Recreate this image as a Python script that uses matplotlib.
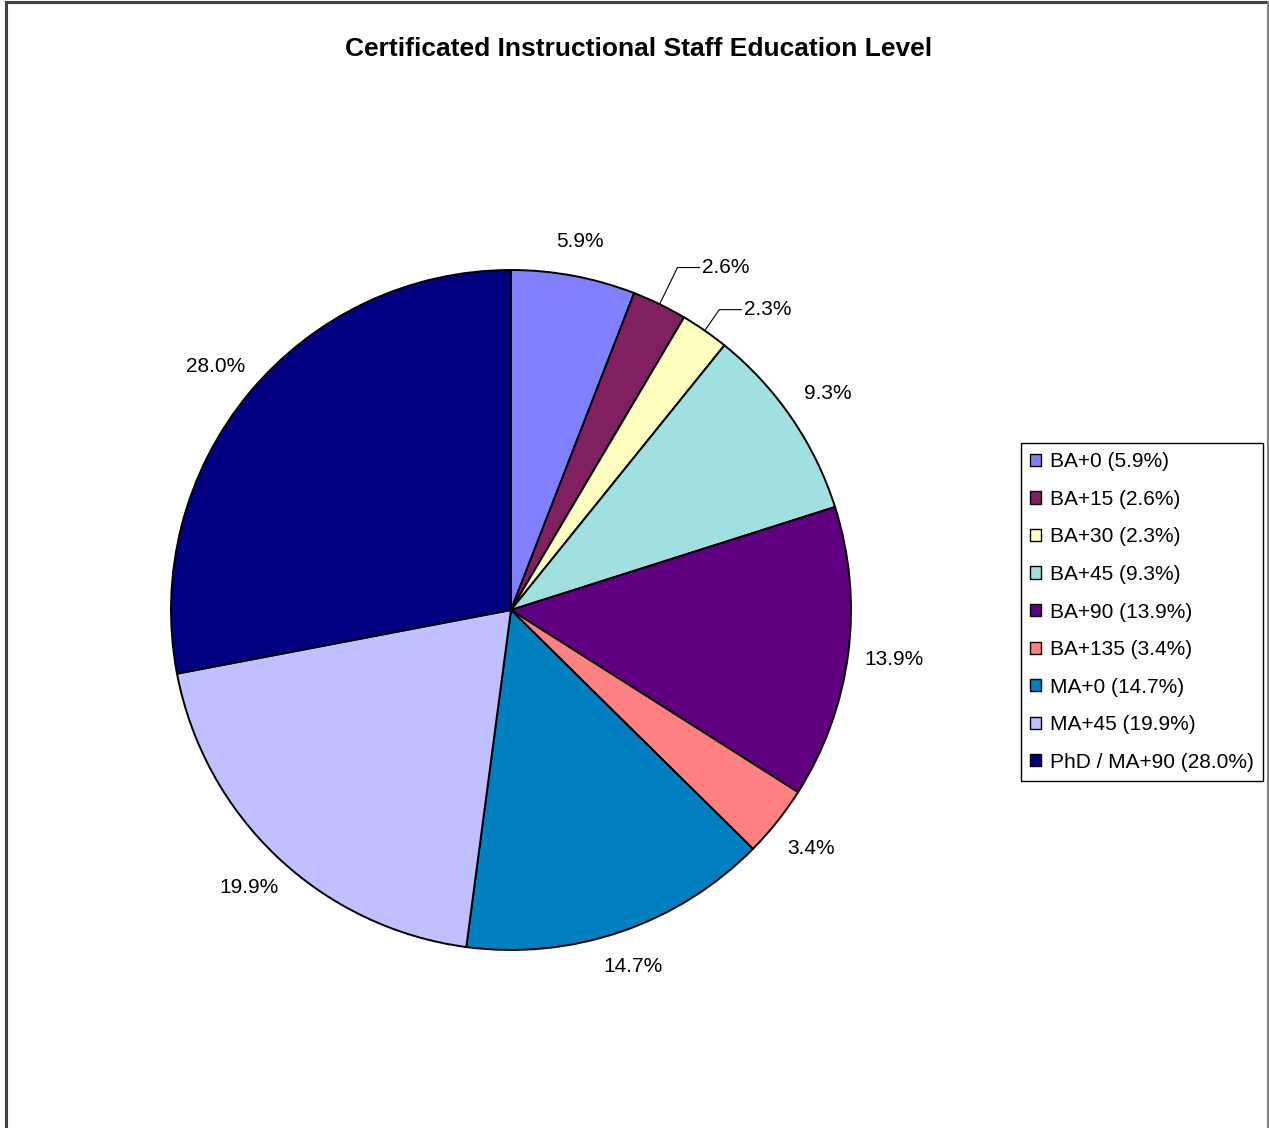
import numpy as np
import matplotlib.pyplot as plt
from matplotlib.lines import Line2D

plt.rcParams['font.family'] = ['Liberation Sans', 'DejaVu Sans']

levels = ["BA+0", "BA+15", "BA+30", "BA+45", "BA+90", "BA+135", "MA+0", "MA+45", "PhD / MA+90"]
shares = [5.9, 2.6, 2.3, 9.3, 13.9, 3.4, 14.7, 19.9, 28.0]
colors = ["#8080FF", "#802060", "#FFFFC0", "#A0E0E0", "#600080", "#FF8080", "#0080C0", "#C0C0FF", "#000080"]

# slices that get a bent leader line instead of a plain label
leader_radius = {1: 1.12, 2: 1.075}

fig = plt.figure(figsize=(12.69, 11.28), dpi=100)
ax = fig.add_axes([171 / 1269, 178 / 1128, 680 / 1269, 680 / 1128])

wedges, _ = ax.pie(shares, colors=colors, startangle=90, counterclock=False, radius=1.0,
                   wedgeprops=dict(edgecolor="black", linewidth=1.4))
ax.set_xlim(-1, 1)
ax.set_ylim(-1, 1)
ax.set_aspect("equal")
ax.axis("off")

fs = 15
for i, (w, v) in enumerate(zip(wedges, shares)):
    ang = np.deg2rad((w.theta1 + w.theta2) / 2)
    c, s = np.cos(ang), np.sin(ang)
    txt = f"{v:.1f}%"
    if i in leader_radius:
        r = leader_radius[i]
        ex, ey = r * c, r * s
        ax.plot([c, ex, ex + 0.065], [s, ey, ey], color="black", lw=0.8, clip_on=False)
        ax.text(ex + 0.072, ey, txt, ha="left", va="center", fontsize=fs)
    else:
        # labels sit a little further out at the sides, where the text is wide
        r = 1.095 + 0.04 * abs(c)
        ax.text(r * c, r * s, txt, ha="center", va="center", fontsize=fs)

fig.text(639 / 1269, 1 - 49 / 1128, "Certificated Instructional Staff Education Level",
         ha="center", va="center", fontsize=19, fontweight="bold")

leg = ax.legend(wedges, [f"{n} ({v:.1f}%)" for n, v in zip(levels, shares)],
                loc="upper left", bbox_to_anchor=(1021 / 1269, 1 - 443 / 1128),
                bbox_transform=fig.transFigure, borderaxespad=0, fontsize=fs,
                handlelength=0.53, handleheight=0.53, handletextpad=0.4,
                labelspacing=0.89, borderpad=0.45, fancybox=False, framealpha=1)
leg.get_frame().set_edgecolor("black")
leg.get_frame().set_linewidth(1.0)
for h in leg.legend_handles:
    h.set_linewidth(1.0)

# outer chart frame (open at the bottom)
fig.add_artist(Line2D([5.5 / 1269, 5.5 / 1269], [0, 1 - 1.5 / 1128], color="#404040", lw=2.2))
fig.add_artist(Line2D([5.5 / 1269, 1268 / 1269], [1 - 1.5 / 1128, 1 - 1.5 / 1128], color="#404040", lw=2.2))
fig.add_artist(Line2D([1268 / 1269, 1268 / 1269], [0, 1 - 1.5 / 1128], color="#808080", lw=1.5))

fig.savefig("out.png", dpi=100)
